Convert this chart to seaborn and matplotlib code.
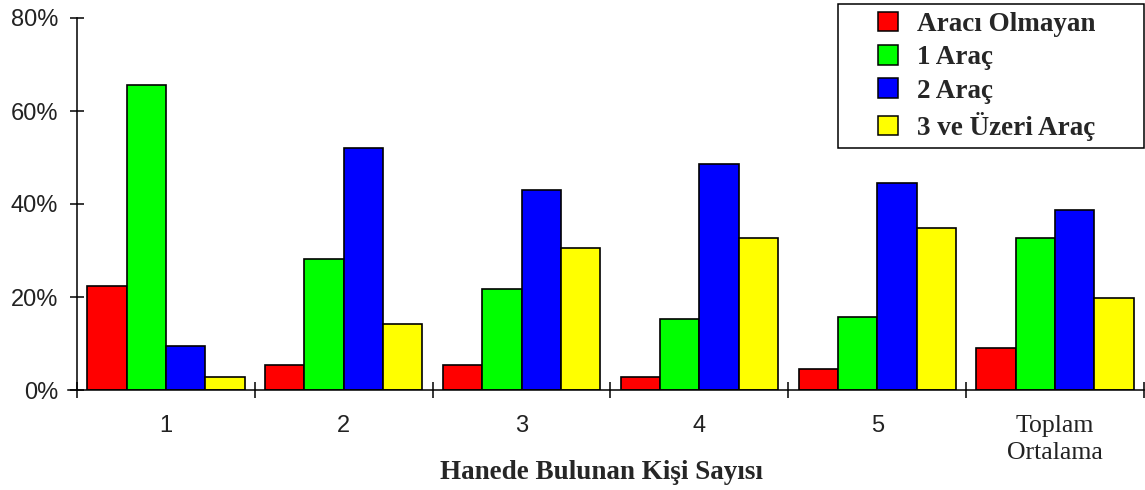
import numpy as np
import pandas as pd
import seaborn as sns
import matplotlib.pyplot as plt
from matplotlib.patches import Patch, Rectangle

# Hanede bulunan kişi sayısına göre araç sahipliği (%)
gruplar = ['1', '2', '3', '4', '5', 'Toplam\nOrtalama']
seriler = ['Aracı Olmayan', '1 Araç', '2 Araç', '3 ve Üzeri Araç']
renkler = ['#FF0000', '#00FF00', '#0000FF', '#FFFF00']

araci_olmayan = [22.4, 5.3, 5.3, 2.9, 4.5, 9.0]
bir_arac = [65.6, 28.1, 21.8, 15.2, 15.6, 32.6]
iki_arac = [9.5, 52.0, 43.0, 48.7, 44.6, 38.7]
uc_ve_uzeri = [2.9, 14.3, 30.5, 32.6, 34.9, 19.7]

y_ticks = [0, 20, 40, 60, 80]

# Long format for seaborn
rows = []
for seri, vals in zip(seriler, [araci_olmayan, bir_arac, iki_arac, uc_ve_uzeri]):
    for g, v in zip(gruplar, vals):
        rows.append({'Grup': g, 'Seri': seri, 'Oran': v})
df = pd.DataFrame(rows)

sns.set_style('white')
plt.rcParams['font.family'] = ['Liberation Sans', 'DejaVu Sans']

W, H = 1145, 490
fig = plt.figure(figsize=(W / 100, H / 100), dpi=100)
ax = fig.add_axes([68 / W, 100 / H, (1144 - 68) / W, (472 - 100) / H])

sns.barplot(data=df, x='Grup', y='Oran', hue='Seri', order=gruplar,
            hue_order=seriler, palette=renkler, saturation=1,
            width=0.885, gap=0, edgecolor='black', linewidth=1.2,
            legend=False, ax=ax)

ax.set_xlim(-0.5 - 9 / 178, 5.5)
ax.set_ylim(0, 80)
ax.set_xlabel('')
ax.set_ylabel('')

for s in ['top', 'right']:
    ax.spines[s].set_visible(False)
ax.spines['left'].set_position(('data', -0.5))
for s in ['left', 'bottom']:
    ax.spines[s].set_color('black')
    ax.spines[s].set_linewidth(1.1)

# separators between groups as major ticks, labels on minor ticks
ax.set_xticks(np.arange(-0.5, 6, 1))
ax.set_xticklabels([])
ax.set_xticks(range(len(gruplar)), minor=True)
ax.set_xticklabels(gruplar, minor=True)
ax.tick_params(axis='x', which='major', bottom=True, direction='inout',
               length=11, width=1.1, color='black')
ax.tick_params(axis='x', which='minor', bottom=True, length=0, pad=18,
               labelsize=17, labelcolor='#222222')
for lab in ax.get_xticklabels(minor=True):
    if 'Toplam' in lab.get_text():
        lab.set_family(['Liberation Serif', 'DejaVu Serif'])
        lab.set_fontsize(18.5)
        lab.set_linespacing(1.3)

ax.set_yticks(y_ticks)
ax.set_yticklabels([f'{v}%' for v in y_ticks])
ax.tick_params(axis='y', left=True, direction='inout', length=10, width=1.1,
               color='black', pad=8.5, labelsize=17, labelcolor='#222222')

fig.text(601 / W, 1 - 472 / H, 'Hanede Bulunan Kişi Sayısı',
         ha='center', va='center', fontsize=19.5, fontweight='bold',
         family=['Liberation Serif', 'DejaVu Serif'])

# legend
handles = [Patch(facecolor=c, edgecolor='black', linewidth=1.1) for c in renkler]
ax.legend(handles, seriler, loc='upper left',
          bbox_to_anchor=(878 / W, 1 - 12 / H), bbox_transform=fig.transFigure,
          frameon=False, borderpad=0, borderaxespad=0,
          handlelength=0.75, handleheight=0.72, handletextpad=0.7,
          labelspacing=0.3,
          prop={'family': ['Liberation Serif', 'DejaVu Serif'],
                'weight': 'bold', 'size': 19.5})
fig.patches.append(Rectangle((838 / W, 1 - 148 / H), (1144 - 838) / W, 144 / H,
                             transform=fig.transFigure, fill=False,
                             edgecolor='black', linewidth=1.1))

fig.savefig('out.png', dpi=100)
